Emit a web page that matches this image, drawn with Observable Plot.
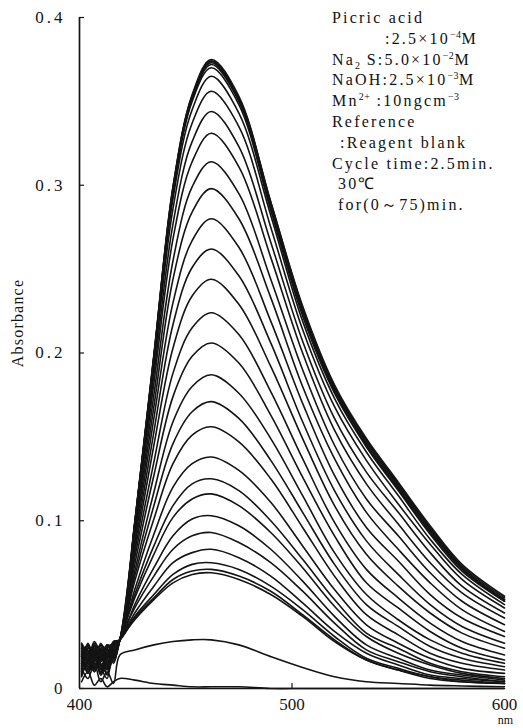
<!DOCTYPE html>
<html>
<head>
<meta charset="utf-8">
<script src="https://cdn.jsdelivr.net/npm/d3@7"></script>
<script src="https://cdn.jsdelivr.net/npm/@observablehq/plot@0.6"></script>
<style>
  body { margin: 0; background: #fff; }
  #chart { position: relative; width: 523px; height: 728px; }
  #note {
    position: absolute; left: 332px; top: 8px;
    font: 16px "Liberation Serif", serif; line-height: 20.8px;
    letter-spacing: 2.2px; color: #111;
  }
  #note div { white-space: nowrap; height: 20.8px; }
  #note sup, #note sub { font-size: 10px; line-height: 0; letter-spacing: 0.5px; }
</style>
</head>
<body>
<div id="chart">
  <div id="note"><div>Picric acid</div><div style="padding-left:53px">:2.5×10<sup>−4</sup>M</div><div>Na<sub>2</sub> S:5.0×10<sup>−2</sup>M</div><div>NaOH:2.5×10<sup>−3</sup>M</div><div>Mn<sup>2+</sup> :10ngcm<sup>−3</sup></div><div>Reference</div><div style="padding-left:8px">:Reagent blank</div><div>Cycle time:2.5min.</div><div style="padding-left:6px">30℃</div><div style="padding-left:6px">for(0～75)min.</div></div>
</div>
<script>
// Wavelengths (nm) at which each repeated scan is sampled
const wavelengths = [401, 404, 407, 410, 413, 416, 419, 426, 435, 444, 453, 462, 475, 490, 505, 520, 535, 550, 565, 580, 600];

// Scan start times (min), one spectrum every 2.5 min
const scanTimes = [0, 2.5, 5, 7.5, 10, 12.5, 15, 17.5, 20, 22.5, 25, 27.5, 30, 32.5, 35, 37.5,
  40, 42.5, 45, 47.5, 50, 52.5, 55, 57.5, 60, 62.5, 65, 67.5, 70, 72.5, 75];

// Absorbance of each scan at the wavelengths above
const absorbance = [
  [0.004, 0.010, 0.002, 0.006, 0.001, 0.004, 0.006, 0.005, 0.003, 0.002, 0.001, 0.001, 0.001, 0.000, 0.000, 0.000, 0.000, 0.000, 0.000, 0.000, 0.000],
  [0.012, 0.006, 0.015, 0.004, 0.010, 0.003, 0.020, 0.023, 0.026, 0.028, 0.029, 0.029, 0.026, 0.019, 0.0125, 0.007, 0.004, 0.003, 0.002, 0.0015, 0.001],
  [0.018, 0.022, 0.012, 0.020, 0.008, 0.024, 0.029, 0.041, 0.053, 0.063, 0.068, 0.069, 0.065, 0.056, 0.043, 0.028, 0.017, 0.011, 0.006, 0.004, 0.003],
  [0.010, 0.016, 0.024, 0.014, 0.019, 0.027, 0.029, 0.042, 0.054, 0.065, 0.070, 0.071, 0.067, 0.058, 0.044, 0.029, 0.017, 0.011, 0.007, 0.004, 0.003],
  [0.022, 0.013, 0.019, 0.009, 0.021, 0.018, 0.029, 0.043, 0.056, 0.068, 0.074, 0.075, 0.071, 0.061, 0.047, 0.031, 0.018, 0.012, 0.007, 0.005, 0.003],
  [0.015, 0.025, 0.017, 0.023, 0.012, 0.026, 0.029, 0.045, 0.061, 0.075, 0.081, 0.083, 0.078, 0.067, 0.051, 0.034, 0.021, 0.014, 0.008, 0.006, 0.004],
  [0.020, 0.009, 0.021, 0.016, 0.024, 0.015, 0.029, 0.048, 0.067, 0.083, 0.091, 0.093, 0.087, 0.075, 0.058, 0.039, 0.023, 0.016, 0.010, 0.007, 0.004],
  [0.007, 0.018, 0.026, 0.011, 0.018, 0.028, 0.029, 0.050, 0.072, 0.091, 0.101, 0.103, 0.097, 0.083, 0.064, 0.043, 0.026, 0.018, 0.011, 0.008, 0.005],
  [0.024, 0.017, 0.010, 0.022, 0.014, 0.021, 0.029, 0.054, 0.080, 0.102, 0.113, 0.116, 0.109, 0.093, 0.072, 0.049, 0.031, 0.021, 0.014, 0.009, 0.006],
  [0.013, 0.023, 0.016, 0.026, 0.020, 0.017, 0.029, 0.056, 0.085, 0.109, 0.122, 0.125, 0.118, 0.100, 0.077, 0.053, 0.033, 0.024, 0.015, 0.010, 0.007],
  [0.019, 0.011, 0.023, 0.013, 0.006, 0.025, 0.029, 0.059, 0.092, 0.120, 0.134, 0.138, 0.130, 0.111, 0.085, 0.059, 0.038, 0.027, 0.018, 0.012, 0.009],
  [0.026, 0.020, 0.014, 0.019, 0.023, 0.022, 0.029, 0.064, 0.101, 0.134, 0.151, 0.156, 0.147, 0.125, 0.096, 0.067, 0.044, 0.032, 0.021, 0.015, 0.011],
  [0.011, 0.024, 0.020, 0.008, 0.017, 0.026, 0.029, 0.067, 0.109, 0.146, 0.165, 0.171, 0.161, 0.136, 0.105, 0.074, 0.050, 0.037, 0.025, 0.018, 0.013],
  [0.017, 0.014, 0.027, 0.021, 0.011, 0.019, 0.029, 0.070, 0.117, 0.159, 0.180, 0.187, 0.176, 0.149, 0.115, 0.081, 0.056, 0.041, 0.029, 0.021, 0.015],
  [0.023, 0.019, 0.011, 0.017, 0.025, 0.023, 0.029, 0.074, 0.127, 0.174, 0.198, 0.206, 0.194, 0.163, 0.126, 0.091, 0.063, 0.048, 0.034, 0.024, 0.017],
  [0.009, 0.027, 0.018, 0.024, 0.015, 0.027, 0.029, 0.078, 0.135, 0.188, 0.215, 0.224, 0.211, 0.177, 0.137, 0.099, 0.071, 0.054, 0.039, 0.028, 0.020],
  [0.021, 0.012, 0.022, 0.010, 0.022, 0.016, 0.029, 0.081, 0.145, 0.203, 0.234, 0.244, 0.229, 0.192, 0.149, 0.109, 0.080, 0.061, 0.045, 0.033, 0.024],
  [0.014, 0.021, 0.013, 0.027, 0.019, 0.024, 0.029, 0.084, 0.153, 0.217, 0.251, 0.262, 0.246, 0.206, 0.159, 0.118, 0.088, 0.068, 0.050, 0.037, 0.027],
  [0.025, 0.016, 0.025, 0.015, 0.009, 0.020, 0.029, 0.087, 0.161, 0.230, 0.267, 0.280, 0.263, 0.219, 0.170, 0.127, 0.096, 0.076, 0.056, 0.042, 0.031],
  [0.012, 0.026, 0.019, 0.021, 0.024, 0.027, 0.029, 0.090, 0.168, 0.244, 0.284, 0.298, 0.280, 0.233, 0.180, 0.137, 0.105, 0.083, 0.063, 0.047, 0.034],
  [0.019, 0.010, 0.015, 0.012, 0.018, 0.022, 0.029, 0.092, 0.175, 0.255, 0.299, 0.314, 0.295, 0.244, 0.190, 0.145, 0.113, 0.091, 0.069, 0.052, 0.038],
  [0.027, 0.022, 0.024, 0.025, 0.013, 0.025, 0.029, 0.094, 0.182, 0.268, 0.314, 0.331, 0.311, 0.257, 0.200, 0.154, 0.122, 0.098, 0.075, 0.057, 0.042],
  [0.008, 0.015, 0.012, 0.018, 0.026, 0.018, 0.029, 0.095, 0.187, 0.277, 0.326, 0.344, 0.323, 0.266, 0.207, 0.161, 0.129, 0.105, 0.081, 0.061, 0.045],
  [0.022, 0.025, 0.021, 0.009, 0.020, 0.026, 0.029, 0.096, 0.192, 0.286, 0.337, 0.356, 0.335, 0.275, 0.214, 0.168, 0.136, 0.110, 0.086, 0.065, 0.048],
  [0.016, 0.018, 0.028, 0.020, 0.016, 0.021, 0.029, 0.097, 0.195, 0.292, 0.345, 0.365, 0.343, 0.282, 0.219, 0.173, 0.141, 0.115, 0.089, 0.068, 0.050],
  [0.024, 0.013, 0.016, 0.026, 0.023, 0.024, 0.029, 0.097, 0.196, 0.295, 0.350, 0.370, 0.348, 0.285, 0.222, 0.176, 0.144, 0.118, 0.092, 0.070, 0.052],
  [0.010, 0.024, 0.022, 0.014, 0.012, 0.028, 0.029, 0.098, 0.197, 0.297, 0.351, 0.372, 0.350, 0.287, 0.224, 0.177, 0.145, 0.119, 0.093, 0.071, 0.052],
  [0.020, 0.017, 0.013, 0.023, 0.021, 0.019, 0.029, 0.098, 0.197, 0.297, 0.352, 0.373, 0.351, 0.288, 0.225, 0.178, 0.146, 0.120, 0.094, 0.072, 0.053],
  [0.026, 0.021, 0.026, 0.017, 0.026, 0.025, 0.029, 0.098, 0.198, 0.298, 0.353, 0.374, 0.352, 0.289, 0.226, 0.179, 0.147, 0.121, 0.095, 0.072, 0.053],
  [0.015, 0.011, 0.018, 0.022, 0.014, 0.022, 0.029, 0.099, 0.198, 0.299, 0.353, 0.374, 0.352, 0.290, 0.227, 0.180, 0.148, 0.122, 0.096, 0.073, 0.054],
  [0.021, 0.026, 0.010, 0.019, 0.024, 0.027, 0.029, 0.099, 0.199, 0.299, 0.354, 0.375, 0.353, 0.290, 0.228, 0.181, 0.149, 0.123, 0.097, 0.074, 0.055]
];

const yTicks = [0, 0.1, 0.2, 0.3, 0.4];
const yTickLabels = ["0", "0.1", "0.2", "0.3", "0.4"];
const xTicks = [400, 500, 600];
const xTickLabels = ["400", "500", "600"];

// Long-form table: one row per (scan, wavelength)
const rows = scanTimes.flatMap((t, i) =>
  wavelengths.map((w, j) => ({time: t, wavelength: w, absorbance: absorbance[i][j]}))
);

const ink = "#141414";

const chart = Plot.plot({
  width: 523,
  height: 728,
  marginLeft: 79,
  marginRight: 19,
  marginTop: 17,
  marginBottom: 40,
  style: {fontFamily: '"Liberation Serif", serif', fontSize: "17px", color: ink, background: "transparent"},
  x: {domain: [400, 600]},
  y: {domain: [0, 0.4]},
  marks: [
    Plot.line(rows, {
      x: "wavelength", y: "absorbance", z: "time",
      curve: "catmull-rom", stroke: ink, strokeWidth: 1.6
    }),
    Plot.ruleX([400], {stroke: ink, strokeWidth: 1.7}),
    Plot.ruleY([0], {stroke: ink, strokeWidth: 1.7}),
    // short tick marks pointing into the plot
    Plot.axisY({ticks: yTicks, tickSize: 5, dx: 5, tickFormat: () => "", label: null, strokeWidth: 1.2}),
    Plot.axisX({ticks: [500], tickSize: 5, dy: -5, tickFormat: () => "", label: null, strokeWidth: 1.2}),
    // tick labels
    Plot.axisY({ticks: yTicks, tickSize: 0, tickPadding: 14, label: null,
      tickFormat: (d) => yTickLabels[yTicks.indexOf(d)]}),
    Plot.axisX({ticks: xTicks, tickSize: 0, tickPadding: 9, label: null,
      tickFormat: (d) => xTickLabels[xTicks.indexOf(d)]}),
    Plot.text(["nm"], {frameAnchor: "bottom-right", textAnchor: "middle", lineAnchor: "middle",
      dx: 1, dy: 32, fontSize: 12}),
    Plot.text(["Absorbance"], {frameAnchor: "left", textAnchor: "middle", lineAnchor: "middle",
      rotate: -90, dx: -62, dy: -30, fontSize: 16})
  ]
});

chart.querySelectorAll('[aria-label="y-axis tick label"] text').forEach((t) => t.setAttribute("letter-spacing", "3"));
chart.querySelectorAll('text').forEach((t) => {
  if (t.textContent === "Absorbance") t.setAttribute("letter-spacing", "1.2");
});
chart.style.position = "absolute";
chart.style.left = "0";
chart.style.top = "0";
document.getElementById("chart").prepend(chart);
</script>
</body>
</html>
